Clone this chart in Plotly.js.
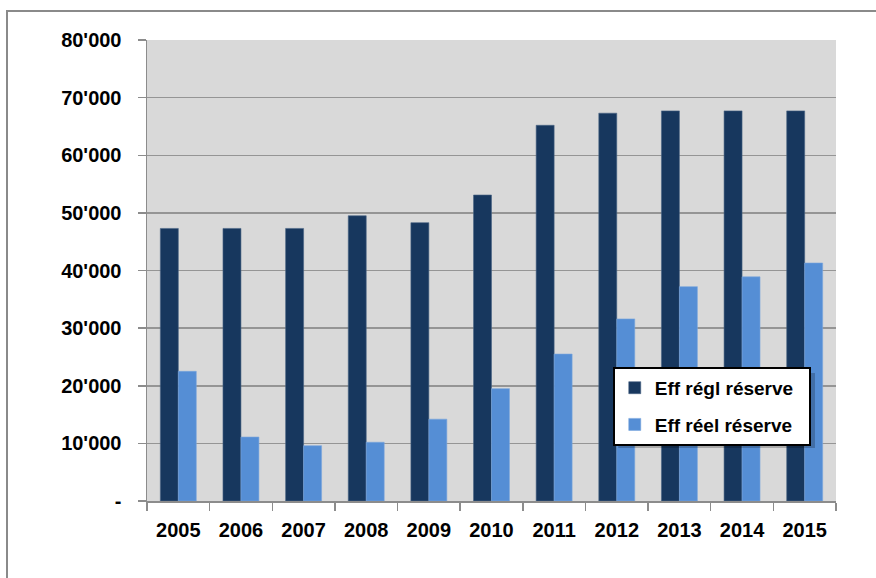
<!DOCTYPE html>
<html>
<head>
<meta charset="utf-8">
<script src="https://cdn.plot.ly/plotly-3.0.1.min.js"></script>
<style>
html,body{margin:0;padding:0;width:876px;height:578px;overflow:hidden;background:#fff;}
#frame{position:absolute;left:6px;top:10px;width:1000px;height:1000px;border:2px solid #8a8a8a;}
#chart{position:absolute;left:0;top:0;width:876px;height:578px;}
</style>
</head>
<body>
<div id="frame"></div>
<div id="chart"></div>
<script>
const years = ['2005','2006','2007','2008','2009','2010','2011','2012','2013','2014','2015'];
const effRegl = [47300, 47300, 47300, 49500, 48300, 53100, 65200, 67300, 67700, 67700, 67700];
const effReel = [22500, 11100, 9600, 10200, 14200, 19500, 25500, 31600, 37200, 38900, 41300];
const yTickVals = [0, 10000, 20000, 30000, 40000, 50000, 60000, 70000, 80000];
const yTickText = ['-', "10'000", "20'000", "30'000", "40'000", "50'000", "60'000", "70'000", "80'000"];
const seriesNames = ['Eff régl réserve', 'Eff réel réserve'];

const fontFam = '"Liberation Sans", Arial, sans-serif';
const pad = '\u00A0\u00A0';

const traces = [
  {type:'bar', x:years, y:effRegl, name:seriesNames[0] + pad, legendgroup:'a',
   marker:{color:'#17375E', line:{color:'#4a6585', width:0.6}}},
  {type:'bar', x:years, y:effReel, name:seriesNames[1] + pad, legendgroup:'b',
   marker:{color:'#558ED5', line:{color:'#7aa6de', width:0.6}}}
];

const layout = {
  width:876, height:578,
  margin:{l:147, r:40, t:40, b:77},
  paper_bgcolor:'rgba(0,0,0,0)',
  plot_bgcolor:'#D9D9D9',
  barmode:'group',
  bargap:0.426,
  bargroupgap:0,
  showlegend:true,
  font:{family:fontFam, color:'#000'},
  xaxis:{
    type:'category',
    showline:true, linecolor:'#8c8c8c', linewidth:1.5,
    ticks:'outside', tickson:'boundaries', ticklen:8, tickcolor:'#8c8c8c', tickwidth:1.5,
    tickfont:{size:20, family:fontFam, weight:'bold', color:'#000'},
    ticklabelstandoff:10,
    showgrid:false, zeroline:false
  },
  yaxis:{
    range:[0,80000],
    tickvals:yTickVals, ticktext:yTickText,
    showline:true, linecolor:'#8c8c8c', linewidth:1.5,
    ticks:'outside', ticklen:8, tickcolor:'#8c8c8c', tickwidth:1.5,
    showgrid:true, gridcolor:'#959595', gridwidth:1.5,
    zeroline:false,
    tickfont:{size:20, family:fontFam, weight:'bold', color:'#000'},
    ticklabelstandoff:12
  },
  legend:{
    x:0.676, y:0.291, xanchor:'left', yanchor:'top',
    bgcolor:'#ffffff', bordercolor:'#000000', borderwidth:2,
    font:{size:19, family:fontFam, weight:'bold', color:'#000'},
    traceorder:'grouped', tracegroupgap:9
  },
  shapes:[
    {type:'rect', xref:'paper', yref:'paper', layer:'above',
     x0:0.684, x1:0.9695, y0:0.2777, y1:0.115,
     fillcolor:'rgba(0,0,0,0.22)', line:{width:0}}
  ]
};

Plotly.newPlot('chart', traces, layout, {displayModeBar:false, staticPlot:true});
</script>
</body>
</html>
